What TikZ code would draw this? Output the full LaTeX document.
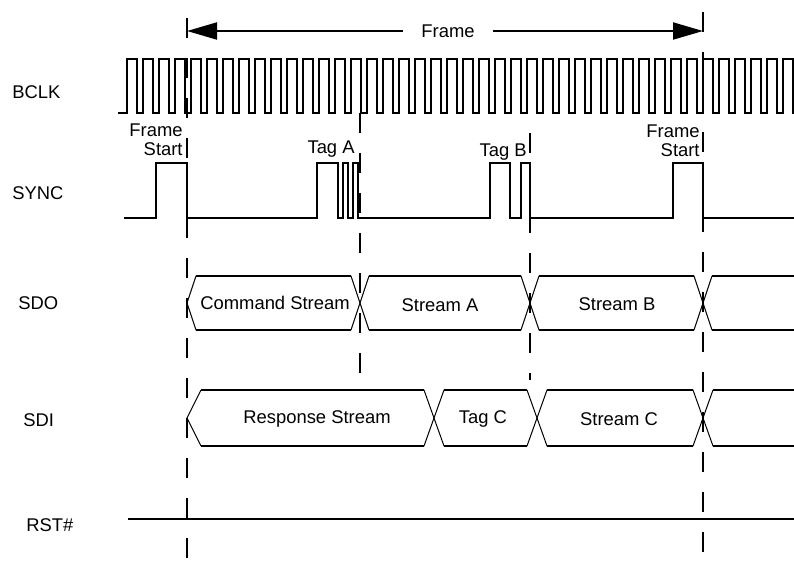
\documentclass[tikz,border=0pt]{standalone}
\usepackage{fontspec}
\setmainfont{Liberation Sans}
\usepackage{tikz}
\usetikzlibrary{positioning, arrows.meta}
\tikzstyle{signame}   = [inner sep=0pt, anchor=west, font=\fontsize{9.2}{9.6}\selectfont]
\tikzstyle{tagtext}   = [inner sep=0pt, anchor=east, align=right, font=\fontsize{9.2}{9.6}\selectfont]
\tikzstyle{busname}   = [inner sep=0pt, font=\fontsize{9.2}{9.6}\selectfont]
\tikzstyle{wave}      = [line width=1pt]
\tikzstyle{slant}     = [line width=0.5pt]
\tikzstyle{guide}     = [line width=1pt, dash pattern=on 10pt off 10pt]
\tikzstyle{framearrow} = [line width=1pt, -{Triangle[length=15pt, width=8.5pt]}]

\begin{document}
\begin{tikzpicture}[x=0.5pt, y=-0.5pt]
            \useasboundingbox (0,0) rectangle (794,564);

            % signal names
            \node[signame] (bclk) at (12,92)  {BCLK};
            \node[signame] (sync) at (12,193) {SYNC};
            \node[signame] (sdo)  at (18,303) {SDO};
            \node[signame] (sdi)  at (23,420) {SDI};
            \node[signame] (rst)  at (26,525) {RST\#};

            % frame arrow
            \coordinate (fl) at (187,31);
            \coordinate (fr) at (703,31);
            \node[busname, inner xsep=9pt] (frame) at (448,31) {Frame};
            \draw[framearrow] (frame.west) -- (fl);
            \draw[framearrow] (frame.east) -- (fr);

            % guide lines
            \draw[guide] (187,18) -- (187,564);
            \draw[guide] (703,12) -- (703,564);
            \draw[guide] (360,113) -- (360,380);
            \draw[guide] (530,133) -- (530,380);

            % BCLK
            \draw[wave] (118,113) -- (127,113)
                \foreach \i in {0,...,41} { -- ++(0,-54) -- ++(10,0) -- ++(0,54) -- ++(6,0) };

            % SYNC
            \draw[wave] (124,218) -- (156,218) -- (156,163) -- (187,163) -- (187,218)
                -- (317,218) -- (317,163) -- (338,163) -- (338,218)
                -- (343,218) -- (343,163) -- (348,163) -- (348,218)
                -- (353,218) -- (353,163) -- (358,163) -- (358,218)
                -- (490,218) -- (490,163) -- (510,163) -- (510,218)
                -- (521,218) -- (521,163) -- (530,163) -- (530,218)
                -- (673,218) -- (673,163) -- (703,163) -- (703,218) -- (794,218);
            \node[tagtext] (fstart) at (183,139.5) {Frame\\Start};
            \node[tagtext] (taga)   at (355,149)   {Tag A};
            \node[tagtext] (tagb)   at (527,152)   {Tag B};
            \node[tagtext] (fstop)  at (700,141)   {Frame\\Start};

            % SDO
            \draw[slant] (196,276) -- (187,303) -- (196,330);
            \foreach \c in {360,530,703} {
                \draw[slant] (\c-9,276) -- (\c+9,330);
                \draw[slant] (\c-9,330) -- (\c+9,276);
            }
            \foreach \a/\b in {196/351, 369/521, 539/694, 712/794} {
                \draw[wave] (\a,276) -- (\b,276);
                \draw[wave] (\a,330) -- (\b,330);
            }
            \node[busname] (cmd)     at (275,303) {Command Stream};
            \node[busname] (streama) at (440,305) {Stream A};
            \node[busname] (streamb) at (617,304) {Stream B};

            % SDI
            \draw[slant] (201,390) -- (187,418) -- (201,446);
            \foreach \c in {434,537,703} {
                \draw[slant] (\c-10,390) -- (\c+10,446);
                \draw[slant] (\c-10,446) -- (\c+10,390);
            }
            \foreach \a/\b in {201/424, 444/527, 547/693, 713/794} {
                \draw[wave] (\a,390) -- (\b,390);
                \draw[wave] (\a,446) -- (\b,446);
            }
            \node[busname] (resp)    at (317,419) {Response Stream};
            \node[busname] (tagc)    at (483,419) {Tag C};
            \node[busname] (streamc) at (619,419) {Stream C};

            % RST#
            \draw[wave] (128,519) -- (794,519);
        \end{tikzpicture}
\end{document}
